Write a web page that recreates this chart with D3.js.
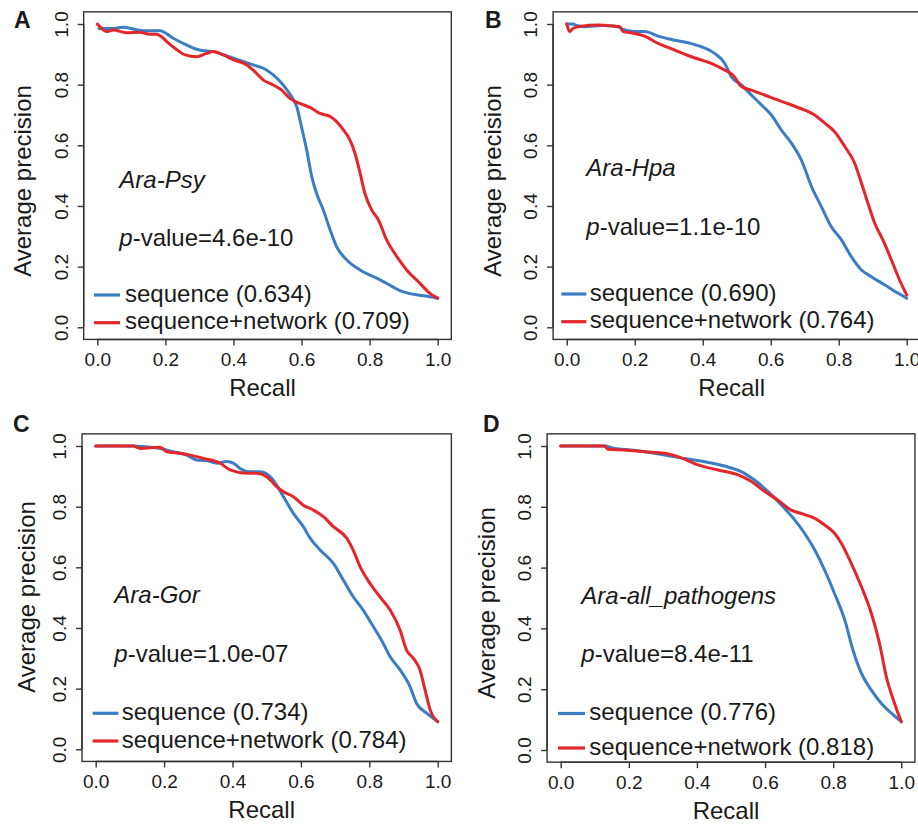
<!DOCTYPE html>
<html>
<head>
<meta charset="utf-8">
<script src="https://cdn.jsdelivr.net/npm/d3@7/dist/d3.min.js"></script>
<style>
  html, body { margin: 0; padding: 0; background: #ffffff; }
  svg { display: block; }
  text { font-family: "Liberation Sans", Arial, Helvetica, sans-serif; fill: #1a1a1a; }
</style>
</head>
<body>
<svg id="chart" width="918" height="826"></svg>
<script>
// ---------------- DATA ----------------
const axisTicks = [0, 0.2, 0.4, 0.6, 0.8, 1.0];
const tickLabels = ["0.0", "0.2", "0.4", "0.6", "0.8", "1.0"];
const panelLetters = ["A", "B", "C", "D"];
const datasetNames = ["Ara-Psy", "Ara-Hpa", "Ara-Gor", "Ara-all_pathogens"];
const pValues = ["4.6e-10", "1.1e-10", "1.0e-07", "8.4e-11"];
const seriesNames = ["sequence", "sequence+network"];
const sequenceAUC = ["0.634", "0.690", "0.734", "0.776"];
const networkAUC = ["0.709", "0.764", "0.784", "0.818"];

// [recall, average precision]
const psySequence = [[0.005,0.985],[0.04,0.985],[0.076,0.989],[0.135,0.978],[0.184,0.978],[0.223,0.953],[0.262,0.931],[0.30,0.914],[0.34,0.909],[0.40,0.887],[0.458,0.865],[0.488,0.854],[0.517,0.832],[0.546,0.799],[0.571,0.76],[0.586,0.727],[0.60,0.66],[0.615,0.585],[0.63,0.497],[0.644,0.442],[0.664,0.387],[0.684,0.321],[0.703,0.266],[0.733,0.222],[0.772,0.189],[0.821,0.162],[0.85,0.145],[0.889,0.121],[0.938,0.107],[0.977,0.101],[1.0,0.096]];
const psyNetwork = [[0,1.0],[0.008,0.991],[0.027,0.975],[0.047,0.98],[0.086,0.971],[0.125,0.973],[0.155,0.966],[0.174,0.966],[0.189,0.958],[0.204,0.942],[0.228,0.92],[0.258,0.898],[0.292,0.892],[0.321,0.903],[0.341,0.909],[0.37,0.898],[0.40,0.882],[0.439,0.865],[0.458,0.848],[0.488,0.815],[0.517,0.799],[0.542,0.782],[0.566,0.755],[0.595,0.738],[0.625,0.725],[0.654,0.705],[0.684,0.695],[0.703,0.678],[0.723,0.651],[0.742,0.618],[0.757,0.574],[0.772,0.508],[0.786,0.442],[0.806,0.387],[0.826,0.354],[0.85,0.288],[0.88,0.233],[0.909,0.189],[0.948,0.145],[0.977,0.112],[1.0,0.096]];

const hpaSequence = [[0,1.0],[0.019,1.0],[0.028,0.995],[0.053,0.991],[0.102,0.995],[0.151,0.991],[0.166,0.982],[0.2,0.975],[0.229,0.975],[0.269,0.96],[0.308,0.949],[0.357,0.938],[0.396,0.925],[0.435,0.903],[0.465,0.87],[0.484,0.826],[0.514,0.799],[0.543,0.766],[0.573,0.733],[0.602,0.7],[0.631,0.651],[0.661,0.607],[0.69,0.552],[0.72,0.464],[0.749,0.398],[0.778,0.332],[0.808,0.288],[0.837,0.233],[0.867,0.189],[0.896,0.167],[0.935,0.14],[0.975,0.112],[1.0,0.096]];
const hpaNetwork = [[0,1.0],[0.009,0.975],[0.019,0.986],[0.043,0.993],[0.092,0.997],[0.141,0.993],[0.156,0.991],[0.166,0.975],[0.19,0.971],[0.229,0.96],[0.269,0.936],[0.318,0.914],[0.367,0.892],[0.425,0.87],[0.465,0.848],[0.489,0.832],[0.514,0.794],[0.543,0.782],[0.582,0.766],[0.622,0.749],[0.661,0.733],[0.70,0.716],[0.729,0.70],[0.759,0.673],[0.788,0.645],[0.818,0.596],[0.847,0.541],[0.867,0.475],[0.886,0.409],[0.906,0.343],[0.93,0.288],[0.955,0.222],[0.979,0.156],[1.0,0.107]];

const gorSequence = [[0,1.0],[0.11,1.0],[0.139,0.998],[0.188,0.992],[0.227,0.981],[0.266,0.97],[0.295,0.954],[0.325,0.952],[0.354,0.943],[0.383,0.949],[0.403,0.943],[0.422,0.926],[0.451,0.915],[0.48,0.915],[0.51,0.899],[0.529,0.871],[0.549,0.833],[0.578,0.778],[0.607,0.734],[0.627,0.696],[0.656,0.657],[0.695,0.613],[0.724,0.558],[0.753,0.503],[0.782,0.459],[0.812,0.404],[0.841,0.349],[0.861,0.305],[0.89,0.262],[0.919,0.207],[0.938,0.152],[0.968,0.119],[1.0,0.091]];
const gorNetwork = [[0,1.0],[0.11,1.0],[0.13,0.992],[0.188,0.996],[0.208,0.981],[0.247,0.976],[0.276,0.97],[0.315,0.959],[0.364,0.943],[0.393,0.921],[0.441,0.91],[0.471,0.91],[0.50,0.899],[0.529,0.866],[0.549,0.849],[0.578,0.833],[0.607,0.805],[0.636,0.789],[0.666,0.767],[0.695,0.734],[0.734,0.696],[0.753,0.657],[0.773,0.602],[0.802,0.547],[0.831,0.503],[0.861,0.459],[0.89,0.393],[0.909,0.327],[0.929,0.30],[0.948,0.262],[0.963,0.196],[0.978,0.13],[1.0,0.091]];

const allSequence = [[0,1.0],[0.129,1.0],[0.159,0.992],[0.207,0.987],[0.266,0.978],[0.305,0.97],[0.364,0.959],[0.423,0.948],[0.481,0.934],[0.53,0.916],[0.569,0.888],[0.609,0.85],[0.648,0.806],[0.687,0.757],[0.716,0.713],[0.746,0.658],[0.775,0.592],[0.804,0.515],[0.834,0.428],[0.858,0.329],[0.883,0.252],[0.912,0.197],[0.941,0.154],[0.971,0.121],[1.0,0.093]];
const allNetwork = [[0,1.0],[0.129,1.0],[0.139,0.989],[0.188,0.987],[0.247,0.981],[0.305,0.976],[0.344,0.965],[0.403,0.938],[0.462,0.921],[0.521,0.905],[0.56,0.883],[0.599,0.85],[0.638,0.822],[0.677,0.789],[0.706,0.778],[0.746,0.762],[0.775,0.74],[0.804,0.713],[0.824,0.68],[0.853,0.614],[0.883,0.537],[0.912,0.45],[0.936,0.351],[0.956,0.241],[0.98,0.154],[1.0,0.093]];

const sequenceSeries = [psySequence, hpaSequence, gorSequence, allSequence];
const networkSeries = [psyNetwork, hpaNetwork, gorNetwork, allNetwork];

// ---------------- LAYOUT (pixel geometry per panel) ----------------
const layout = [
  { x0: 97.3, x1: 437.7, y0: 327.3, y1: 24.0, letter: [14, 28], ylab: [31, 181], title: [119.3, 188.3], pval: [119.3, 246], leg: { lx0: 94, lx1: 120, tx: 125, ly: [295, 322.7] } },
  { x0: 566.7, x1: 906.7, y0: 327.3, y1: 24.0, letter: [485, 28], ylab: [501, 181], title: [586.3, 175.7], pval: [586.3, 235], leg: { lx0: 561.3, lx1: 586.3, tx: 589.7, ly: [294, 321.7] } },
  { x0: 95.7, x1: 437.7, y0: 749.3, y1: 446.0, letter: [13, 432], ylab: [35, 597], title: [114.3, 603.3], pval: [114.3, 661.7], leg: { lx0: 92.7, lx1: 118.3, tx: 121.7, ly: [713.3, 741] } },
  { x0: 560.7, x1: 901.3, y0: 750.0, y1: 446.0, letter: [483, 432], ylab: [495, 603], title: [581.3, 604], pval: [581.3, 662.3], leg: { lx0: 558, lx1: 585, tx: 589.3, ly: [713.5, 748] } }
];

const blue = "#3b7dc4";
const red = "#e4262b";
const boxColor = "#333333";

const svg = d3.select("#chart");

layout.forEach((L, i) => {
  const x = d3.scaleLinear().domain([0, 1]).range([L.x0, L.x1]);
  const y = d3.scaleLinear().domain([0, 1]).range([L.y0, L.y1]);
  const g = svg.append("g");

  const bx0 = x(-0.04), bx1 = x(1.04), by0 = y(-0.04), by1 = y(1.04);

  // plot box
  g.append("rect")
    .attr("x", bx0).attr("y", by1)
    .attr("width", bx1 - bx0).attr("height", by0 - by1)
    .attr("fill", "none").attr("stroke", boxColor).attr("stroke-width", 1.4);

  // x axis
  const xAxis = d3.axisBottom(x).tickValues(axisTicks).tickSize(6).tickPadding(4)
    .tickFormat((d, k) => tickLabels[k]);
  const gx = g.append("g").attr("transform", `translate(0,${by0})`).call(xAxis);
  gx.select(".domain").attr("d", `M${x(0)},0H${x(1)}`).attr("stroke", boxColor).attr("stroke-width", 1.4);
  gx.selectAll(".tick line").attr("stroke", boxColor).attr("stroke-width", 1.4);
  gx.selectAll(".tick text").attr("font-size", 19).attr("fill", "#1a1a1a")
    .attr("font-family", "Liberation Sans, Arial, sans-serif")
    .attr("dy", null).attr("y", 27);

  // y axis
  const yAxis = d3.axisLeft(y).tickValues(axisTicks).tickSize(6).tickPadding(4)
    .tickFormat((d, k) => tickLabels[k]);
  const gy = g.append("g").attr("transform", `translate(${bx0},0)`).call(yAxis);
  gy.select(".domain").attr("d", `M0,${y(0)}V${y(1)}`).attr("stroke", boxColor).attr("stroke-width", 1.4);
  gy.selectAll(".tick line").attr("stroke", boxColor).attr("stroke-width", 1.4);
  gy.selectAll(".tick text")
    .attr("font-size", 19).attr("fill", "#1a1a1a")
    .attr("font-family", "Liberation Sans, Arial, sans-serif")
    .attr("x", null).attr("dy", null)
    .attr("text-anchor", "middle")
    .attr("transform", "translate(-16,0) rotate(-90)");

  // axis titles
  g.append("text")
    .attr("x", (bx0 + bx1) / 2 - 5).attr("y", by0 + 57)
    .attr("text-anchor", "middle").attr("font-size", 24)
    .text("Recall");
  g.append("text")
    .attr("transform", `translate(${L.ylab[0]},${L.ylab[1]}) rotate(-90)`)
    .attr("text-anchor", "middle").attr("font-size", 24)
    .text("Average precision");

  // panel letter
  g.append("text")
    .attr("x", L.letter[0]).attr("y", L.letter[1])
    .attr("font-size", 23).attr("font-weight", "bold")
    .text(panelLetters[i]);

  // curves
  const line = d3.line().curve(d3.curveMonotoneX).x(d => x(d[0])).y(d => y(d[1]));
  g.append("path").datum(sequenceSeries[i])
    .attr("d", line).attr("fill", "none").attr("stroke", blue)
    .attr("stroke-width", 3).attr("stroke-linejoin", "round").attr("stroke-linecap", "round");
  g.append("path").datum(networkSeries[i])
    .attr("d", line).attr("fill", "none").attr("stroke", red)
    .attr("stroke-width", 3).attr("stroke-linejoin", "round").attr("stroke-linecap", "round");

  // dataset name + p-value
  g.append("text")
    .attr("x", L.title[0]).attr("y", L.title[1])
    .attr("font-size", 24).attr("font-style", "italic")
    .text(datasetNames[i]);
  const pt = g.append("text")
    .attr("x", L.pval[0]).attr("y", L.pval[1])
    .attr("font-size", 24);
  pt.append("tspan").attr("font-style", "italic").text("p");
  pt.append("tspan").text("-value=" + pValues[i]);

  // legend
  const legLabels = [
    seriesNames[0] + " (" + sequenceAUC[i] + ")",
    seriesNames[1] + " (" + networkAUC[i] + ")"
  ];
  const legColors = [blue, red];
  legLabels.forEach((lab, k) => {
    g.append("line")
      .attr("x1", L.leg.lx0).attr("x2", L.leg.lx1)
      .attr("y1", L.leg.ly[k]).attr("y2", L.leg.ly[k])
      .attr("stroke", legColors[k]).attr("stroke-width", 3.2);
    g.append("text")
      .attr("x", L.leg.tx).attr("y", L.leg.ly[k] + 6.5)
      .attr("font-size", 24)
      .text(lab);
  });
});
</script>
</body>
</html>
